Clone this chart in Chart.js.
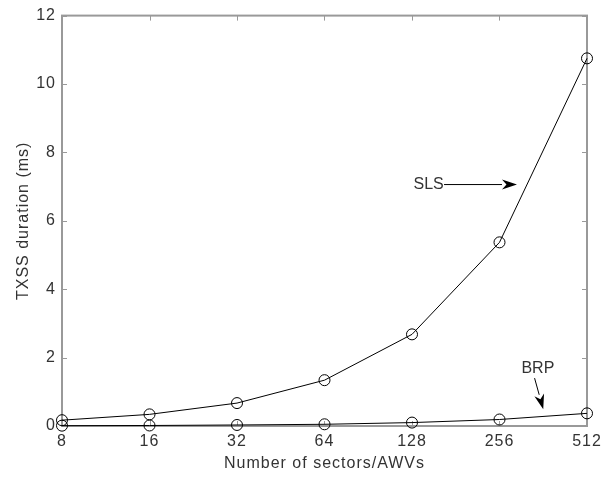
<!DOCTYPE html>
<html>
<head>
<meta charset="utf-8">
<script src="https://cdn.jsdelivr.net/npm/chart.js@4/dist/chart.umd.min.js"></script>
<style>
	html, body { margin: 0; background: #fff; }
	#wrap { width: 607px; height: 477px; }
</style>
</head>
<body>
<div id="wrap"><canvas id="c"></canvas></div>
<script>
	const sectors = [8, 16, 32, 64, 128, 256, 512];
	const slsMs   = [0.17, 0.34, 0.67, 1.34, 2.68, 5.37, 10.75];
	const brpMs   = [0.01, 0.015, 0.03, 0.05, 0.10, 0.19, 0.37];
	const yTicks  = [0, 2, 4, 6, 8, 10, 12];
	// text labels with arrows, in data coordinates
	const notes = [
		{ text: 'SLS', at: [146, 7.06], from: [165, 7.06], to: [294, 7.06] },
		{ text: 'BRP', at: [347, 1.69], from: [338, 1.40], to: [362, 0.49] },
	];

	const FONT  = { family: '"Liberation Sans", Arial, sans-serif', size: 16 };
	const TEXT  = '#333';
	const FRAME = '#999';

	const toPts = ys => sectors.map((x, i) => ({ x, y: ys[i] }));
	const lineSet = ys => ({
		data: toPts(ys),
		borderColor: '#000',
		borderWidth: 1,
		pointRadius: 5.5,
		pointBorderWidth: 1,
		pointBorderColor: '#000',
		pointBackgroundColor: 'rgba(0,0,0,0)',
		clip: false,
		tension: 0
	});

	// slightly wider text, like the MATLAB export
	const spacing = {
		id: 'spacing',
		beforeDraw(chart) { chart.ctx.letterSpacing = '1px'; },
		afterDraw(chart)  { chart.ctx.letterSpacing = '0px'; }
	};

	// MATLAB-like box with inward ticks
	const frame = {
		id: 'frame',
		beforeDatasetsDraw(chart) {
			const { ctx, chartArea: a, scales: { x, y } } = chart;
			ctx.save();
			ctx.strokeStyle = FRAME;
			ctx.lineWidth = 2;
			ctx.strokeRect(a.left, a.top, a.right - a.left, a.bottom - a.top);
			ctx.lineWidth = 1;
			ctx.beginPath();
			sectors.forEach(v => {
				const px = Math.round(x.getPixelForValue(v)) + 0.5;
				ctx.moveTo(px, a.bottom); ctx.lineTo(px, a.bottom - 5);
				ctx.moveTo(px, a.top);    ctx.lineTo(px, a.top + 5);
			});
			yTicks.forEach(v => {
				const py = Math.round(y.getPixelForValue(v)) + 0.5;
				ctx.moveTo(a.left, py);  ctx.lineTo(a.left + 5, py);
				ctx.moveTo(a.right, py); ctx.lineTo(a.right - 5, py);
			});
			ctx.stroke();
			ctx.restore();
		}
	};

	const arrows = {
		id: 'arrows',
		afterDraw(chart) {
			const { ctx, scales: { x, y } } = chart;
			ctx.save();
			ctx.font = `${FONT.size}px ${FONT.family}`;
			ctx.textAlign = 'center';
			ctx.textBaseline = 'middle';
			notes.forEach(n => {
				ctx.fillStyle = TEXT;
				ctx.fillText(n.text, x.getPixelForValue(n.at[0]), y.getPixelForValue(n.at[1]));
				const x0 = x.getPixelForValue(n.from[0]), y0 = y.getPixelForValue(n.from[1]);
				const x1 = x.getPixelForValue(n.to[0]),   y1 = y.getPixelForValue(n.to[1]);
				const ang = Math.atan2(y1 - y0, x1 - x0);
				const len = 15, half = 5;
				const bx = x1 - len * Math.cos(ang), by = y1 - len * Math.sin(ang);
				ctx.strokeStyle = '#000';
				ctx.lineWidth = 1;
				ctx.beginPath();
				ctx.moveTo(x0, y0); ctx.lineTo(bx, by);
				ctx.stroke();
				ctx.fillStyle = '#000';
				ctx.beginPath();
				ctx.moveTo(x1, y1);
				ctx.lineTo(bx + half * Math.sin(ang), by - half * Math.cos(ang));
				ctx.lineTo(x1 - 0.7 * len * Math.cos(ang), y1 - 0.7 * len * Math.sin(ang));
				ctx.lineTo(bx - half * Math.sin(ang), by + half * Math.cos(ang));
				ctx.closePath();
				ctx.fill();
			});
			ctx.restore();
		}
	};

	new Chart(document.getElementById('c'), {
		type: 'line',
		data: { datasets: [lineSet(slsMs), lineSet(brpMs)] },
		options: {
			responsive: true,
			maintainAspectRatio: false,
			animation: false,
			layout: { padding: { top: 13, right: 20, left: 0, bottom: 0 } },
			plugins: { legend: { display: false }, tooltip: { enabled: false } },
			scales: {
				x: {
					type: 'logarithmic',
					min: 8,
					max: 512,
					afterBuildTicks: s => { s.ticks = sectors.map(v => ({ value: v })); },
					afterFit: s => { s.height = 51; },
					grid: { display: false, drawTicks: false },
					border: { display: false },
					ticks: {
						autoSkip: false, maxRotation: 0, padding: 6,
						font: FONT, color: TEXT,
						callback: v => String(v)
					},
					title: {
						display: true, text: 'Number of sectors/AWVs',
						font: FONT, color: TEXT, padding: { top: 0, bottom: 4 }
					}
				},
				y: {
					min: 0,
					max: 12,
					afterBuildTicks: s => { s.ticks = yTicks.map(v => ({ value: v })); },
					afterFit: s => { s.width = 62; },
					grid: { display: false, drawTicks: false },
					border: { display: false },
					ticks: { padding: 6, font: FONT, color: TEXT },
					title: {
						display: true, text: 'TXSS duration (ms)',
						font: FONT, color: TEXT, padding: { top: 14, bottom: 0 }
					}
				}
			}
		},
		plugins: [spacing, frame, arrows]
	});
</script>
</body>
</html>
